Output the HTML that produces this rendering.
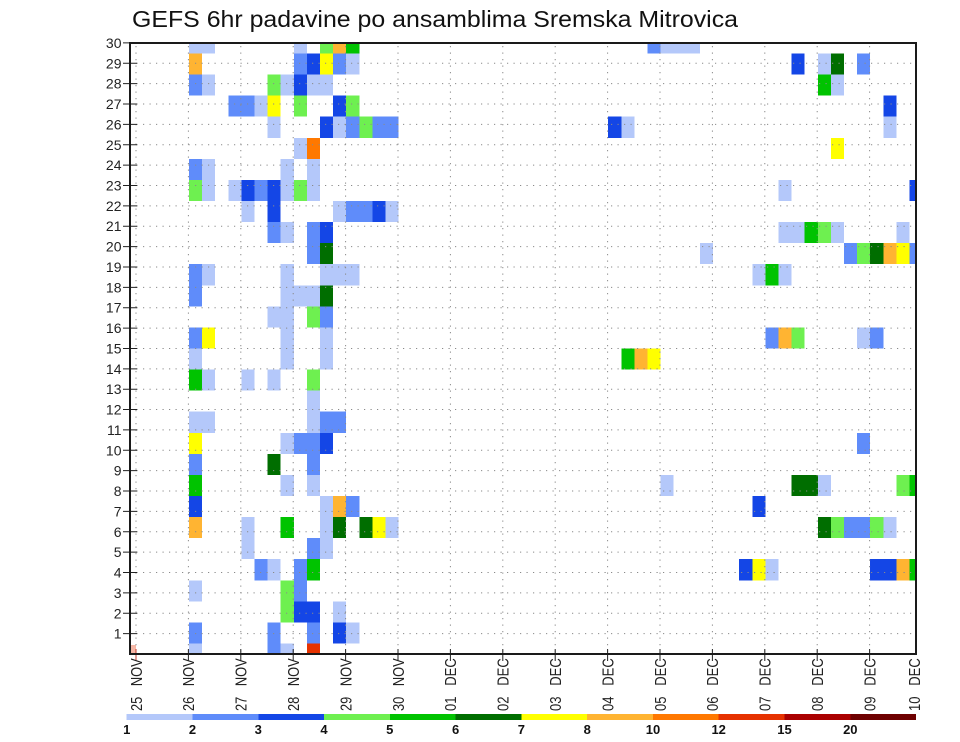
<!DOCTYPE html>
<html><head><meta charset="utf-8"><style>
html,body{margin:0;padding:0;background:#fff;}
svg{display:block;font-family:"Liberation Sans",sans-serif;}
.a{fill:#b4c8fa}.b{fill:#5f8cfa}.c{fill:#1446e6}.d{fill:#6ef050}.e{fill:#00c300}.f{fill:#006e00}.g{fill:#ffff00}.h{fill:#ffb432}.i{fill:#ff7800}.k{fill:#e63200}.r2{fill:#aa0000}.r3{fill:#6e0000}
</style></head><body>
<svg width="960" height="742" viewBox="0 0 960 742" xmlns="http://www.w3.org/2000/svg">
<rect width="960" height="742" fill="#fff"/>
<defs><clipPath id="pc"><rect x="130" y="43" width="786" height="611"/></clipPath></defs>
<text x="132" y="27" font-size="23.5" fill="#111" textLength="606" lengthAdjust="spacingAndGlyphs">GEFS 6hr padavine po ansamblima Sremska Mitrovica</text>
<g clip-path="url(#pc)">
<g transform="translate(136.6,32.465) scale(13.1,21.07)" shape-rendering="crispEdges">
<rect class="a" x="4" y="0" width="2" height="1"/><rect class="a" x="12" y="0" width="1" height="1"/><rect class="d" x="14" y="0" width="1" height="1"/><rect class="h" x="15" y="0" width="1" height="1"/><rect class="e" x="16" y="0" width="1" height="1"/><rect class="b" x="39" y="0" width="1" height="1"/><rect class="a" x="40" y="0" width="3" height="1"/>
<rect class="h" x="4" y="1" width="1" height="1"/><rect class="b" x="12" y="1" width="1" height="1"/><rect class="c" x="13" y="1" width="1" height="1"/><rect class="g" x="14" y="1" width="1" height="1"/><rect class="b" x="15" y="1" width="1" height="1"/><rect class="a" x="16" y="1" width="1" height="1"/><rect class="c" x="50" y="1" width="1" height="1"/><rect class="a" x="52" y="1" width="1" height="1"/><rect class="f" x="53" y="1" width="1" height="1"/><rect class="b" x="55" y="1" width="1" height="1"/>
<rect class="b" x="4" y="2" width="1" height="1"/><rect class="a" x="5" y="2" width="1" height="1"/><rect class="d" x="10" y="2" width="1" height="1"/><rect class="a" x="11" y="2" width="1" height="1"/><rect class="c" x="12" y="2" width="1" height="1"/><rect class="a" x="13" y="2" width="2" height="1"/><rect class="e" x="52" y="2" width="1" height="1"/><rect class="a" x="53" y="2" width="1" height="1"/>
<rect class="b" x="7" y="3" width="2" height="1"/><rect class="a" x="9" y="3" width="1" height="1"/><rect class="g" x="10" y="3" width="1" height="1"/><rect class="d" x="12" y="3" width="1" height="1"/><rect class="c" x="15" y="3" width="1" height="1"/><rect class="d" x="16" y="3" width="1" height="1"/><rect class="c" x="57" y="3" width="1" height="1"/>
<rect class="a" x="10" y="4" width="1" height="1"/><rect class="c" x="14" y="4" width="1" height="1"/><rect class="a" x="15" y="4" width="1" height="1"/><rect class="b" x="16" y="4" width="1" height="1"/><rect class="d" x="17" y="4" width="1" height="1"/><rect class="b" x="18" y="4" width="2" height="1"/><rect class="c" x="36" y="4" width="1" height="1"/><rect class="a" x="37" y="4" width="1" height="1"/><rect class="a" x="57" y="4" width="1" height="1"/>
<rect class="a" x="12" y="5" width="1" height="1"/><rect class="i" x="13" y="5" width="1" height="1"/><rect class="g" x="53" y="5" width="1" height="1"/>
<rect class="b" x="4" y="6" width="1" height="1"/><rect class="a" x="5" y="6" width="1" height="1"/><rect class="a" x="11" y="6" width="1" height="1"/><rect class="a" x="13" y="6" width="1" height="1"/>
<rect class="d" x="4" y="7" width="1" height="1"/><rect class="a" x="5" y="7" width="1" height="1"/><rect class="a" x="7" y="7" width="1" height="1"/><rect class="c" x="8" y="7" width="1" height="1"/><rect class="b" x="9" y="7" width="1" height="1"/><rect class="c" x="10" y="7" width="1" height="1"/><rect class="a" x="11" y="7" width="1" height="1"/><rect class="d" x="12" y="7" width="1" height="1"/><rect class="a" x="13" y="7" width="1" height="1"/><rect class="a" x="49" y="7" width="1" height="1"/><rect class="c" x="59" y="7" width="1" height="1"/>
<rect class="a" x="8" y="8" width="1" height="1"/><rect class="c" x="10" y="8" width="1" height="1"/><rect class="a" x="15" y="8" width="1" height="1"/><rect class="b" x="16" y="8" width="2" height="1"/><rect class="c" x="18" y="8" width="1" height="1"/><rect class="a" x="19" y="8" width="1" height="1"/>
<rect class="b" x="10" y="9" width="1" height="1"/><rect class="a" x="11" y="9" width="1" height="1"/><rect class="b" x="13" y="9" width="1" height="1"/><rect class="c" x="14" y="9" width="1" height="1"/><rect class="a" x="49" y="9" width="2" height="1"/><rect class="e" x="51" y="9" width="1" height="1"/><rect class="d" x="52" y="9" width="1" height="1"/><rect class="a" x="53" y="9" width="1" height="1"/><rect class="a" x="58" y="9" width="1" height="1"/>
<rect class="b" x="13" y="10" width="1" height="1"/><rect class="f" x="14" y="10" width="1" height="1"/><rect class="a" x="43" y="10" width="1" height="1"/><rect class="b" x="54" y="10" width="1" height="1"/><rect class="d" x="55" y="10" width="1" height="1"/><rect class="f" x="56" y="10" width="1" height="1"/><rect class="h" x="57" y="10" width="1" height="1"/><rect class="g" x="58" y="10" width="1" height="1"/><rect class="b" x="59" y="10" width="1" height="1"/>
<rect class="b" x="4" y="11" width="1" height="1"/><rect class="a" x="5" y="11" width="1" height="1"/><rect class="a" x="11" y="11" width="1" height="1"/><rect class="a" x="14" y="11" width="3" height="1"/><rect class="a" x="47" y="11" width="1" height="1"/><rect class="e" x="48" y="11" width="1" height="1"/><rect class="a" x="49" y="11" width="1" height="1"/>
<rect class="b" x="4" y="12" width="1" height="1"/><rect class="a" x="11" y="12" width="3" height="1"/><rect class="f" x="14" y="12" width="1" height="1"/>
<rect class="a" x="10" y="13" width="2" height="1"/><rect class="d" x="13" y="13" width="1" height="1"/><rect class="b" x="14" y="13" width="1" height="1"/>
<rect class="b" x="4" y="14" width="1" height="1"/><rect class="g" x="5" y="14" width="1" height="1"/><rect class="a" x="11" y="14" width="1" height="1"/><rect class="a" x="14" y="14" width="1" height="1"/><rect class="b" x="48" y="14" width="1" height="1"/><rect class="h" x="49" y="14" width="1" height="1"/><rect class="d" x="50" y="14" width="1" height="1"/><rect class="a" x="55" y="14" width="1" height="1"/><rect class="b" x="56" y="14" width="1" height="1"/>
<rect class="a" x="4" y="15" width="1" height="1"/><rect class="a" x="11" y="15" width="1" height="1"/><rect class="a" x="14" y="15" width="1" height="1"/><rect class="e" x="37" y="15" width="1" height="1"/><rect class="h" x="38" y="15" width="1" height="1"/><rect class="g" x="39" y="15" width="1" height="1"/>
<rect class="e" x="4" y="16" width="1" height="1"/><rect class="a" x="5" y="16" width="1" height="1"/><rect class="a" x="8" y="16" width="1" height="1"/><rect class="a" x="10" y="16" width="1" height="1"/><rect class="d" x="13" y="16" width="1" height="1"/>
<rect class="a" x="13" y="17" width="1" height="1"/>
<rect class="a" x="4" y="18" width="2" height="1"/><rect class="a" x="13" y="18" width="1" height="1"/><rect class="b" x="14" y="18" width="2" height="1"/>
<rect class="g" x="4" y="19" width="1" height="1"/><rect class="a" x="11" y="19" width="1" height="1"/><rect class="b" x="12" y="19" width="2" height="1"/><rect class="c" x="14" y="19" width="1" height="1"/><rect class="b" x="55" y="19" width="1" height="1"/>
<rect class="b" x="4" y="20" width="1" height="1"/><rect class="f" x="10" y="20" width="1" height="1"/><rect class="b" x="13" y="20" width="1" height="1"/>
<rect class="e" x="4" y="21" width="1" height="1"/><rect class="a" x="11" y="21" width="1" height="1"/><rect class="a" x="13" y="21" width="1" height="1"/><rect class="a" x="40" y="21" width="1" height="1"/><rect class="f" x="50" y="21" width="2" height="1"/><rect class="a" x="52" y="21" width="1" height="1"/><rect class="d" x="58" y="21" width="1" height="1"/><rect class="e" x="59" y="21" width="1" height="1"/>
<rect class="c" x="4" y="22" width="1" height="1"/><rect class="a" x="14" y="22" width="1" height="1"/><rect class="h" x="15" y="22" width="1" height="1"/><rect class="b" x="16" y="22" width="1" height="1"/><rect class="c" x="47" y="22" width="1" height="1"/>
<rect class="h" x="4" y="23" width="1" height="1"/><rect class="a" x="8" y="23" width="1" height="1"/><rect class="e" x="11" y="23" width="1" height="1"/><rect class="a" x="14" y="23" width="1" height="1"/><rect class="f" x="15" y="23" width="1" height="1"/><rect class="f" x="17" y="23" width="1" height="1"/><rect class="g" x="18" y="23" width="1" height="1"/><rect class="a" x="19" y="23" width="1" height="1"/><rect class="f" x="52" y="23" width="1" height="1"/><rect class="d" x="53" y="23" width="1" height="1"/><rect class="b" x="54" y="23" width="2" height="1"/><rect class="d" x="56" y="23" width="1" height="1"/><rect class="a" x="57" y="23" width="1" height="1"/>
<rect class="a" x="8" y="24" width="1" height="1"/><rect class="b" x="13" y="24" width="1" height="1"/><rect class="a" x="14" y="24" width="1" height="1"/>
<rect class="b" x="9" y="25" width="1" height="1"/><rect class="a" x="10" y="25" width="1" height="1"/><rect class="b" x="12" y="25" width="1" height="1"/><rect class="e" x="13" y="25" width="1" height="1"/><rect class="c" x="46" y="25" width="1" height="1"/><rect class="g" x="47" y="25" width="1" height="1"/><rect class="a" x="48" y="25" width="1" height="1"/><rect class="c" x="56" y="25" width="2" height="1"/><rect class="h" x="58" y="25" width="1" height="1"/><rect class="e" x="59" y="25" width="1" height="1"/>
<rect class="a" x="4" y="26" width="1" height="1"/><rect class="d" x="11" y="26" width="1" height="1"/><rect class="b" x="12" y="26" width="1" height="1"/>
<rect class="d" x="11" y="27" width="1" height="1"/><rect class="c" x="12" y="27" width="2" height="1"/><rect class="a" x="15" y="27" width="1" height="1"/>
<rect class="b" x="4" y="28" width="1" height="1"/><rect class="b" x="10" y="28" width="1" height="1"/><rect class="b" x="13" y="28" width="1" height="1"/><rect class="c" x="15" y="28" width="1" height="1"/><rect class="a" x="16" y="28" width="1" height="1"/>
<rect class="a" x="4" y="29" width="1" height="1"/><rect class="b" x="10" y="29" width="1" height="1"/><rect class="a" x="11" y="29" width="1" height="1"/><rect class="k" x="13" y="29" width="1" height="1"/>
</g>
<rect x="131" y="645" width="5" height="9" fill="#e63200" opacity="0.35"/>
</g>
<path fill="none" stroke="#8a8a8a" stroke-width="1" stroke-dasharray="1.2 5.3" d="
M130 633.63H916M130 613.26H916M130 592.89H916M130 572.52H916M130 552.15H916M130 531.78H916M130 511.41H916M130 491.04H916M130 470.67H916M130 450.3H916
M130 429.93H916M130 409.56H916M130 389.19H916M130 368.82H916M130 348.45H916M130 328.08H916M130 307.71H916M130 287.34H916M130 266.97H916M130 246.6H916
M130 226.23H916M130 205.86H916M130 185.49H916M130 165.12H916M130 144.75H916M130 124.38H916M130 104.01H916M130 83.64H916M130 63.27H916"/>
<path fill="none" stroke="#8a8a8a" stroke-width="1" stroke-dasharray="1.2 5.3" d="
M136 46V654M188.4 46V654M240.8 46V654M293.2 46V654M345.6 46V654M398 46V654M450.4 46V654M502.8 46V654M555.2 46V654M607.6 46V654M660 46V654M712.4 46V654M764.8 46V654M817.2 46V654M869.6 46V654"/>
<path fill="none" stroke="#222" stroke-width="1" d="
M123 633.63H137M123 613.26H137M123 592.89H137M123 572.52H137M123 552.15H137M123 531.78H137M123 511.41H137M123 491.04H137M123 470.67H137M123 450.3H137
M123 429.93H137M123 409.56H137M123 389.19H137M123 368.82H137M123 348.45H137M123 328.08H137M123 307.71H137M123 287.34H137M123 266.97H137M123 246.6H137
M123 226.23H137M123 205.86H137M123 185.49H137M123 165.12H137M123 144.75H137M123 124.38H137M123 104.01H137M123 83.64H137M123 63.27H137M123 42.9H130
M188.4 649V661M240.8 649V661M293.2 649V661M345.6 649V661M398 649V661M450.4 649V661M502.8 649V661M555.2 649V661M607.6 649V661M660 649V661M712.4 649V661M764.8 649V661M817.2 649V661M869.6 649V661"/>
<path fill="none" stroke="#c0392b" stroke-width="1" d="M136 649V661"/>
<rect x="130" y="43" width="786" height="611" fill="none" stroke="#1a1a1a" stroke-width="2"/>
<g font-size="14" fill="#222" text-anchor="end">
<text x="121.5" y="638.6">1</text><text x="121.5" y="618.3">2</text><text x="121.5" y="597.9">3</text><text x="121.5" y="577.5">4</text><text x="121.5" y="557.2">5</text><text x="121.5" y="536.8">6</text><text x="121.5" y="516.4">7</text><text x="121.5" y="496">8</text><text x="121.5" y="475.7">9</text><text x="121.5" y="455.3">10</text>
<text x="121.5" y="434.9">11</text><text x="121.5" y="414.6">12</text><text x="121.5" y="394.2">13</text><text x="121.5" y="373.8">14</text><text x="121.5" y="353.5">15</text><text x="121.5" y="333.1">16</text><text x="121.5" y="312.7">17</text><text x="121.5" y="292.3">18</text><text x="121.5" y="272">19</text><text x="121.5" y="251.6">20</text>
<text x="121.5" y="231.2">21</text><text x="121.5" y="210.9">22</text><text x="121.5" y="190.5">23</text><text x="121.5" y="170.1">24</text><text x="121.5" y="149.8">25</text><text x="121.5" y="129.4">26</text><text x="121.5" y="109">27</text><text x="121.5" y="88.6">28</text><text x="121.5" y="68.3">29</text><text x="121.5" y="47.9">30</text>
</g>
<g font-size="16" fill="#222">
<text transform="translate(141.8,711) rotate(-90)" textLength="52.7" lengthAdjust="spacingAndGlyphs">25&#160;&#160;&#160;NOV</text>
<text transform="translate(194.2,711) rotate(-90)" textLength="52.7" lengthAdjust="spacingAndGlyphs">26&#160;&#160;&#160;NOV</text>
<text transform="translate(246.6,711) rotate(-90)" textLength="52.7" lengthAdjust="spacingAndGlyphs">27&#160;&#160;&#160;NOV</text>
<text transform="translate(299,711) rotate(-90)" textLength="52.7" lengthAdjust="spacingAndGlyphs">28&#160;&#160;&#160;NOV</text>
<text transform="translate(351.4,711) rotate(-90)" textLength="52.7" lengthAdjust="spacingAndGlyphs">29&#160;&#160;&#160;NOV</text>
<text transform="translate(403.8,711) rotate(-90)" textLength="52.7" lengthAdjust="spacingAndGlyphs">30&#160;&#160;&#160;NOV</text>
<text transform="translate(456.2,711) rotate(-90)" textLength="52.7" lengthAdjust="spacingAndGlyphs">01&#160;&#160;&#160;DEC</text>
<text transform="translate(508.6,711) rotate(-90)" textLength="52.7" lengthAdjust="spacingAndGlyphs">02&#160;&#160;&#160;DEC</text>
<text transform="translate(561,711) rotate(-90)" textLength="52.7" lengthAdjust="spacingAndGlyphs">03&#160;&#160;&#160;DEC</text>
<text transform="translate(613.4,711) rotate(-90)" textLength="52.7" lengthAdjust="spacingAndGlyphs">04&#160;&#160;&#160;DEC</text>
<text transform="translate(665.8,711) rotate(-90)" textLength="52.7" lengthAdjust="spacingAndGlyphs">05&#160;&#160;&#160;DEC</text>
<text transform="translate(718.2,711) rotate(-90)" textLength="52.7" lengthAdjust="spacingAndGlyphs">06&#160;&#160;&#160;DEC</text>
<text transform="translate(770.6,711) rotate(-90)" textLength="52.7" lengthAdjust="spacingAndGlyphs">07&#160;&#160;&#160;DEC</text>
<text transform="translate(823,711) rotate(-90)" textLength="52.7" lengthAdjust="spacingAndGlyphs">08&#160;&#160;&#160;DEC</text>
<text transform="translate(875.4,711) rotate(-90)" textLength="52.7" lengthAdjust="spacingAndGlyphs">09&#160;&#160;&#160;DEC</text>
<text transform="translate(919.8,711) rotate(-90)" textLength="52.7" lengthAdjust="spacingAndGlyphs">10&#160;&#160;&#160;DEC</text>
</g>
<g shape-rendering="crispEdges">
<rect class="a" x="126.7" y="714" width="65.8" height="6"/>
<rect class="b" x="192.5" y="714" width="65.8" height="6"/>
<rect class="c" x="258.3" y="714" width="65.8" height="6"/>
<rect class="d" x="324" y="714" width="65.8" height="6"/>
<rect class="e" x="389.8" y="714" width="65.8" height="6"/>
<rect class="f" x="455.6" y="714" width="65.8" height="6"/>
<rect class="g" x="521.4" y="714" width="65.8" height="6"/>
<rect class="h" x="587.2" y="714" width="65.8" height="6"/>
<rect class="i" x="653" y="714" width="65.8" height="6"/>
<rect class="k" x="718.7" y="714" width="65.8" height="6"/>
<rect class="r2" x="784.5" y="714" width="65.8" height="6"/>
<rect class="r3" x="850.3" y="714" width="65.7" height="6"/>
</g>
<g font-size="13" font-weight="bold" fill="#111" text-anchor="middle">
<text x="126.7" y="734">1</text><text x="192.5" y="734">2</text><text x="258.3" y="734">3</text><text x="324" y="734">4</text><text x="389.8" y="734">5</text><text x="455.6" y="734">6</text><text x="521.4" y="734">7</text><text x="587.2" y="734">8</text><text x="653" y="734">10</text><text x="718.7" y="734">12</text><text x="784.5" y="734">15</text><text x="850.3" y="734">20</text>
</g>
</svg>
</body></html>
